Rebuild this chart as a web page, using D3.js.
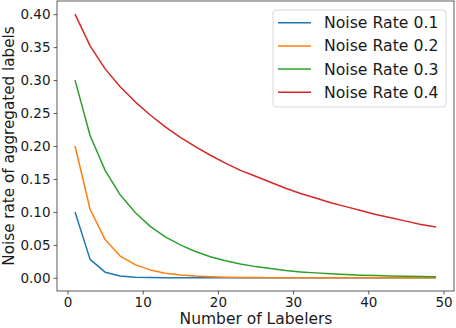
<!DOCTYPE html>
<html>
<head>
<meta charset="utf-8">
<script src="https://cdn.jsdelivr.net/npm/d3@7"></script>
<style>
  body { margin: 0; background: #fff; }
  svg { display: block; font-family: "DejaVu Sans", sans-serif; }
</style>
</head>
<body>
<svg id="chart"></svg>
<script>
// Chart data
const labelers = [1, 3, 5, 7, 9, 11, 13, 15, 17, 19, 21, 23, 25, 27, 29, 31, 33, 35, 37, 39, 41, 43, 45, 47, 49];
const noise01 = [0.100, 0.028, 0.0086, 0.0027, 0.0009, 0.0003, 0.0001, 0.00004, 0, 0, 0, 0, 0, 0, 0, 0, 0, 0, 0, 0, 0, 0, 0, 0, 0];
const noise02 = [0.200, 0.104, 0.058, 0.033, 0.020, 0.012, 0.007, 0.0042, 0.0026, 0.0016, 0.001, 0.0006, 0.0004, 0.00025, 0.00015, 0.0001, 0.00006, 0.00004, 0, 0, 0, 0, 0, 0, 0];
const noise03 = [0.300, 0.216, 0.163, 0.126, 0.099, 0.078, 0.062, 0.050, 0.040, 0.032, 0.026, 0.021, 0.017, 0.014, 0.011, 0.009, 0.0075, 0.006, 0.005, 0.004, 0.0034, 0.0028, 0.0023, 0.0019, 0.0016];
const noise04 = [0.400, 0.352, 0.317, 0.290, 0.267, 0.247, 0.229, 0.213, 0.199, 0.186, 0.174, 0.163, 0.154, 0.145, 0.136, 0.128, 0.121, 0.114, 0.108, 0.102, 0.096, 0.091, 0.086, 0.081, 0.077];
const seriesNames = ["Noise Rate 0.1", "Noise Rate 0.2", "Noise Rate 0.3", "Noise Rate 0.4"];
const seriesColors = ["#1f77b4", "#ff7f0e", "#2ca02c", "#d62728"];
const xTicks = [0, 10, 20, 30, 40, 50];
const yTicks = [0, 0.05, 0.10, 0.15, 0.20, 0.25, 0.30, 0.35, 0.40];

const series = [noise01, noise02, noise03, noise04];

const width = 456, height = 328;
const margin = { top: 1, right: 2, bottom: 37, left: 57 };

const svg = d3.select("#chart").attr("width", width).attr("height", height);

// Scales with matplotlib-like 5% padding
const x = d3.scaleLinear().domain([-1.4, 51.4]).range([margin.left, width - margin.right]);
const y = d3.scaleLinear().domain([-0.02, 0.42]).range([height - margin.bottom, margin.top]);

// Lines
const line = d3.line()
    .x((d, i) => x(labelers[i]))
    .y(d => y(d));

svg.append("g").selectAll("path")
    .data(series)
    .enter().append("path")
    .attr("fill", "none")
    .attr("stroke", (d, i) => seriesColors[i])
    .attr("stroke-width", 1.5)
    .attr("stroke-linejoin", "round")
    .attr("d", line);

// Axes
const xAxis = svg.append("g")
    .attr("transform", `translate(0,${height - margin.bottom})`)
    .call(d3.axisBottom(x).tickValues(xTicks).tickSize(3.5).tickPadding(3).tickFormat(d3.format("d")));

const yAxis = svg.append("g")
    .attr("transform", `translate(${margin.left},0)`)
    .call(d3.axisLeft(y).tickValues(yTicks).tickSize(3.5).tickPadding(3).tickFormat(d3.format(".2f")));

[xAxis, yAxis].forEach(ax => {
    ax.select(".domain").remove();
    ax.selectAll("line").attr("stroke", "#333").attr("stroke-width", 0.8);
    ax.selectAll("text").attr("font-size", 13.5).attr("fill", "#1a1a1a")
        .attr("font-family", "DejaVu Sans");
});

// Frame
svg.append("rect")
    .attr("x", margin.left).attr("y", margin.top)
    .attr("width", width - margin.left - margin.right)
    .attr("height", height - margin.top - margin.bottom)
    .attr("fill", "none").attr("stroke", "#333").attr("stroke-width", 0.8);

// Axis labels
svg.append("text")
    .attr("x", 256)
    .attr("y", 324)
    .attr("text-anchor", "middle")
    .attr("font-size", 15.5)
    .attr("fill", "#1a1a1a")
    .text("Number of Labelers");

svg.append("text")
    .attr("transform", `translate(${14},${146}) rotate(-90)`)
    .attr("text-anchor", "middle")
    .attr("font-size", 15.2)
    .attr("fill", "#1a1a1a")
    .text("Noise rate of aggregated labels");

// Legend
const legend = svg.append("g").attr("transform", "translate(273,10)");
legend.append("rect")
    .attr("width", 173).attr("height", 97)
    .attr("rx", 3)
    .attr("fill", "#fff").attr("fill-opacity", 0.8)
    .attr("stroke", "#ccc").attr("stroke-width", 0.8);

const item = legend.selectAll(".item")
    .data(seriesNames)
    .enter().append("g")
    .attr("class", "item")
    .attr("transform", (d, i) => `translate(0,${12.7 + i * 23.2})`);

item.append("line")
    .attr("x1", 5).attr("x2", 38)
    .attr("stroke", (d, i) => seriesColors[i])
    .attr("stroke-width", 1.5);

item.append("text")
    .attr("x", 51).attr("dy", "0.35em")
    .attr("font-size", 15.7)
    .attr("fill", "#1a1a1a")
    .text(d => d);
</script>
</body>
</html>
